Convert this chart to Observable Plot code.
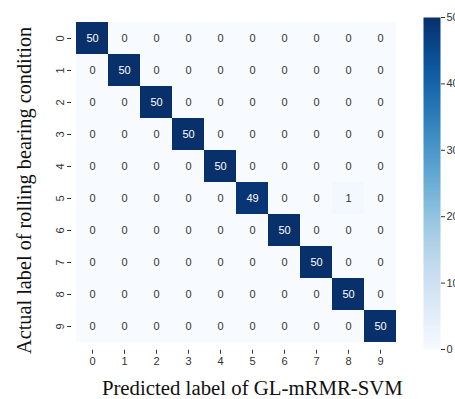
<!DOCTYPE html>
<html>
<head>
<meta charset="utf-8">
<script src="https://cdn.jsdelivr.net/npm/d3@7"></script>
<script src="https://cdn.jsdelivr.net/npm/@observablehq/plot@0.6"></script>
<style>
  html, body { margin: 0; padding: 0; background: #fff; }
  #wrap { position: relative; width: 455px; height: 399px; overflow: hidden; }
  #wrap > svg { position: absolute; left: 0; top: 0; }
</style>
</head>
<body>
<div id="wrap"></div>
<script>
const classLabels = ["0","1","2","3","4","5","6","7","8","9"];
const confusion = [
  [50,0,0,0,0,0,0,0,0,0],
  [0,50,0,0,0,0,0,0,0,0],
  [0,0,50,0,0,0,0,0,0,0],
  [0,0,0,50,0,0,0,0,0,0],
  [0,0,0,0,50,0,0,0,0,0],
  [0,0,0,0,0,49,0,0,1,0],
  [0,0,0,0,0,0,50,0,0,0],
  [0,0,0,0,0,0,0,50,0,0],
  [0,0,0,0,0,0,0,0,50,0],
  [0,0,0,0,0,0,0,0,0,50]
];
const colorTicks = [0, 10, 20, 30, 40, 50];
const xTitle = "Predicted label of GL-mRMR-SVM";
const yTitle = "Actual label of rolling bearing condition";

const cells = [];
confusion.forEach((row, i) => row.forEach((v, j) => cells.push({actual: classLabels[i], predicted: classLabels[j], value: v})));

const W = 455, H = 399;
const colorOpts = {type: "linear", scheme: "Blues", domain: [0, 50]};
const serif = "'Liberation Serif', 'Times New Roman', serif";

const main = Plot.plot({
  width: W, height: H,
  marginLeft: 71, marginRight: 54.3, marginTop: 17, marginBottom: 52.3,
  style: {fontFamily: "'Liberation Sans', Arial, sans-serif", fontSize: "11px", background: "transparent", overflow: "visible"},
  x: {type: "band", domain: classLabels, padding: 0, label: null},
  y: {type: "band", domain: classLabels, padding: 0, label: null},
  color: colorOpts,
  marks: [
    Plot.cell(cells, {x: "predicted", y: "actual", fill: "value", inset: 0}),
    Plot.text(cells, {x: "predicted", y: "actual", text: d => String(d.value),
      fill: d => d.value > 25 ? "white" : "#333", fontSize: 11}),
    Plot.axisX({tickSize: 4, dy: 3, tickPadding: 3, fill: "#333", stroke: "#333", fontSize: 11, label: null}),
    Plot.axisY({tickSize: 4, tickRotate: -90, tickPadding: 4, fill: "#333", stroke: "#333", fontSize: 11, label: null}),
    Plot.text([xTitle], {frameAnchor: "bottom", dx: 16, dy: 48, text: d => d, fontFamily: serif, fontSize: 20.8, fill: "#111"}),
    Plot.text([yTitle], {frameAnchor: "left", textAnchor: "middle", dx: -47, dy: 8, rotate: -90, text: d => d, fontFamily: serif, fontSize: 20.3, fill: "#111"})
  ]
});

const bar = Plot.plot({
  width: W, height: H,
  marginLeft: 423, marginRight: 15, marginTop: 17, marginBottom: 50,
  style: {fontFamily: "'Liberation Sans', Arial, sans-serif", fontSize: "11px", background: "transparent", overflow: "visible"},
  x: {domain: [0, 1], axis: null},
  y: {domain: [0, 50], label: null},
  color: colorOpts,
  marks: [
    Plot.raster({fill: (x, y) => y, x1: 0, x2: 1, y1: 0, y2: 50, width: 2, height: 200, interpolate: "nearest", imageRendering: "auto"}),
    Plot.axisY({anchor: "right", ticks: colorTicks, tickSize: 4, tickPadding: 2, fill: "#333", stroke: "#333", fontSize: 11, label: null})
  ]
});

const wrap = document.getElementById("wrap");
wrap.appendChild(main);
wrap.appendChild(bar);
</script>
</body>
</html>
